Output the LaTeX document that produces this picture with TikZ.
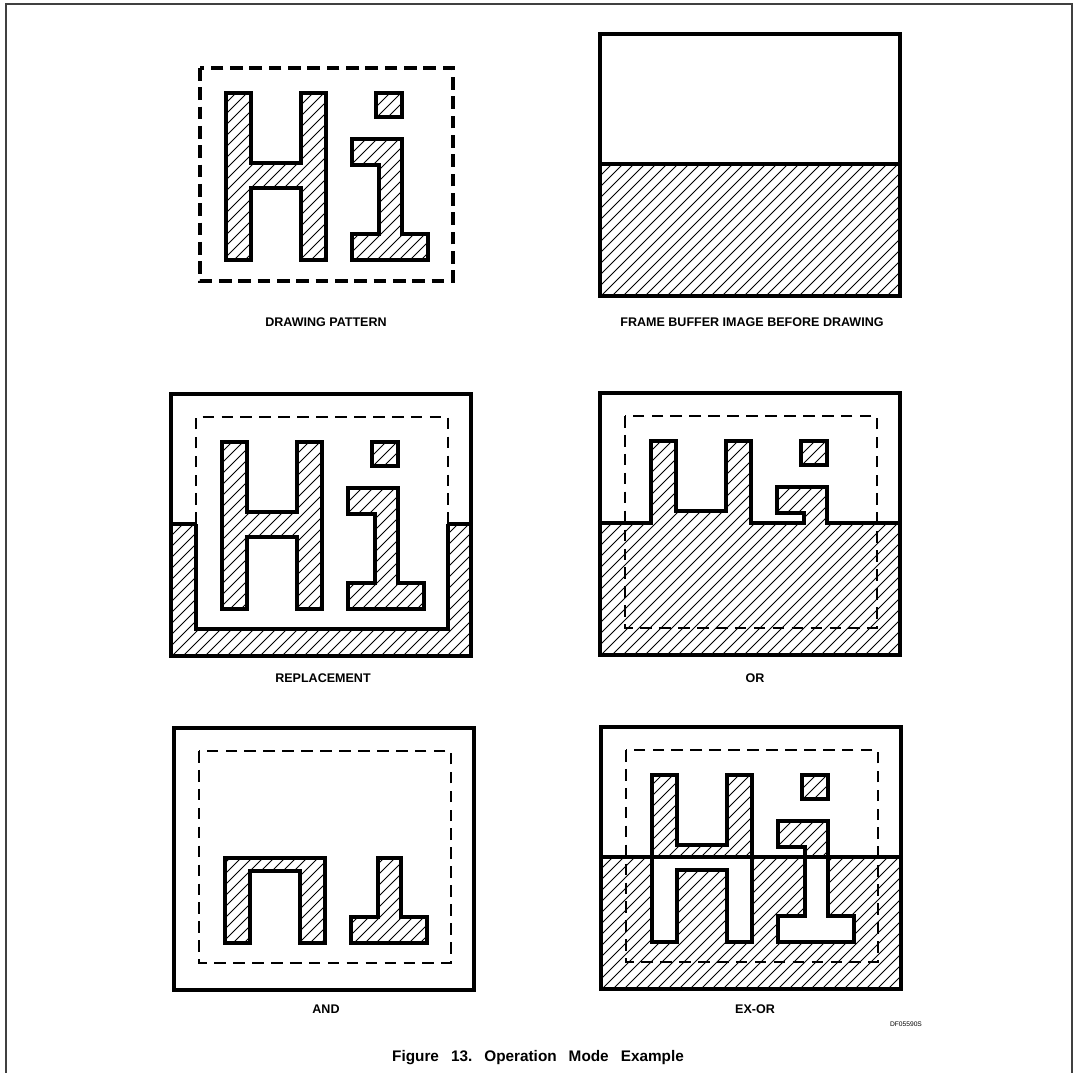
\documentclass[tikz,border=0pt]{standalone}
\usepackage{fontspec}
\setmainfont{Liberation Sans}
\newcommand\Hpath{(26,25) -- (51,25) -- (51,95) -- (101,95) -- (101,25) -- (126,25) -- (126,192) -- (101,192) -- (101,120) -- (51,120) -- (51,192) -- (26,192) -- cycle}
\newcommand\Dotpath{(176,25) rectangle (202,49)}
\newcommand\Ipath{(152,71) -- (202,71) -- (202,166) -- (228,166) -- (228,192) -- (152,192) -- (152,166) -- (179,166) -- (179,97) -- (152,97) -- cycle}
\newcommand\hatchall{\foreach \k in {0,...,200}{\draw[hatchline] (\k*11-1100,1073) -- ++(1100,-1100);}}
\begin{document}
\begin{tikzpicture}[x=0.75pt,y=-0.75pt,
  outline/.style={line width=2.6pt, line join=miter},
  frame/.style={line width=2.5pt, line join=miter},
  dashbox/.style={line width=1.9pt, dash pattern=on 8.7pt off 5.5pt},
  dashboxa/.style={line width=2.6pt, dash pattern=on 9.5pt off 5pt},
  hatchline/.style={line width=0.75pt},
  lbl/.style={font=\bfseries\fontsize{9.4}{10}\selectfont, inner sep=0pt}
]
\useasboundingbox (0,0) rectangle (1079,1073);
\fill[white] (0,0) rectangle (1079,1073);
% page frame
\draw[line width=1.5pt, black!75] (6,1073) -- (6,4) -- (1072,4) -- (1072,1073);

% ---------- Panel 1: drawing pattern ----------
\begin{scope}[shift={(200,68)}]
  \begin{scope}\clip \Hpath \Dotpath \Ipath; \hatchall \end{scope}
  \draw[outline] \Hpath \Dotpath \Ipath;
  \draw[dashboxa] (0,0) rectangle (253,213);
\end{scope}
\node[lbl] (l1) at (326,322) {DRAWING PATTERN};

% ---------- Panel 2: frame buffer ----------
\begin{scope}[shift={(625,57)}]
  \begin{scope}\clip (-25,107) rectangle (275,239); \hatchall \end{scope}
  \draw[frame] (-25,-23) rectangle (275,239);
  \draw[frame] (-25,107) -- (275,107);
\end{scope}
\node[lbl] (l2) at (752,322) {FRAME BUFFER IMAGE BEFORE DRAWING};

% ---------- Panel 3: replacement ----------
\begin{scope}[shift={(196,417)}]
  \begin{scope}\clip (-25,107) -- (0,107) -- (0,212) -- (252,212) -- (252,107) -- (275,107) -- (275,239) -- (-25,239) -- cycle; \hatchall \end{scope}
  \begin{scope}\clip \Hpath \Dotpath \Ipath; \hatchall \end{scope}
  \draw[frame] (-25,-23) rectangle (275,239);
  \draw[frame] (-25,107) -- (0,107);
  \draw[frame] (252,107) -- (275,107);
  \draw[frame] (0,107) -- (0,212) -- (252,212) -- (252,107);
  \draw[dashbox] (0,107) -- (0,0) -- (252,0) -- (252,107);
  \draw[outline] \Hpath \Dotpath \Ipath;
\end{scope}
\node[lbl] (l3) at (323,678) {REPLACEMENT};

% ---------- Panel 4: OR ----------
\begin{scope}[shift={(625,416)}]
  \begin{scope}
    \clip (-25,107) -- (26,107) -- (26,25) -- (51,25) -- (51,95) -- (101,95) -- (101,25) -- (126,25) -- (126,107) -- (179,107) -- (179,97) -- (152,97) -- (152,71) -- (202,71) -- (202,107) -- (275,107) -- (275,239) -- (-25,239) -- cycle \Dotpath;
    \hatchall
  \end{scope}
  \draw[frame] (-25,-23) rectangle (275,239);
  \draw[outline] (-25,107) -- (26,107) -- (26,25) -- (51,25) -- (51,95) -- (101,95) -- (101,25) -- (126,25) -- (126,107) -- (179,107) -- (179,97) -- (152,97) -- (152,71) -- (202,71) -- (202,107) -- (275,107);
  \draw[outline] \Dotpath;
  \draw[dashbox] (0,0) rectangle (252,212);
\end{scope}
\node[lbl] (l4) at (755,678) {OR};

% ---------- Panel 5: AND ----------
\begin{scope}[shift={(199,751)}]
  \begin{scope}
    \clip (26,107) -- (126,107) -- (126,192) -- (101,192) -- (101,120) -- (51,120) -- (51,192) -- (26,192) -- cycle
          (179,107) -- (202,107) -- (202,166) -- (228,166) -- (228,192) -- (152,192) -- (152,166) -- (179,166) -- cycle;
    \hatchall
  \end{scope}
  \draw[frame] (-25,-23) rectangle (275,239);
  \draw[outline] (26,107) -- (126,107) -- (126,192) -- (101,192) -- (101,120) -- (51,120) -- (51,192) -- (26,192) -- cycle
          (179,107) -- (202,107) -- (202,166) -- (228,166) -- (228,192) -- (152,192) -- (152,166) -- (179,166) -- cycle;
  \draw[dashbox] (0,0) rectangle (252,212);
\end{scope}
\node[lbl] (l5) at (326,1009) {AND};

% ---------- Panel 6: EX-OR ----------
\begin{scope}[shift={(626,750)}]
  \begin{scope}[even odd rule]
    \clip (-25,107) rectangle (275,239) \Hpath \Dotpath \Ipath;
    \hatchall
  \end{scope}
  \draw[frame] (-25,-23) rectangle (275,239);
  \draw[frame] (-25,107) -- (275,107);
  \draw[outline] \Hpath \Dotpath \Ipath;
  \draw[dashbox] (0,0) rectangle (252,212);
\end{scope}
\node[lbl] (l6) at (755,1009) {EX-OR};

\node[font=\fontsize{5}{6}\selectfont, inner sep=0pt] (code) at (906,1024) {DF05590S};
\node[font=\bfseries\fontsize{11.5}{13}\selectfont, inner sep=0pt] (cap) at (538,1058) {Figure\hspace{9pt}13.\hspace{9pt}Operation\hspace{9pt}Mode\hspace{9pt}Example};
\end{tikzpicture}
\end{document}
